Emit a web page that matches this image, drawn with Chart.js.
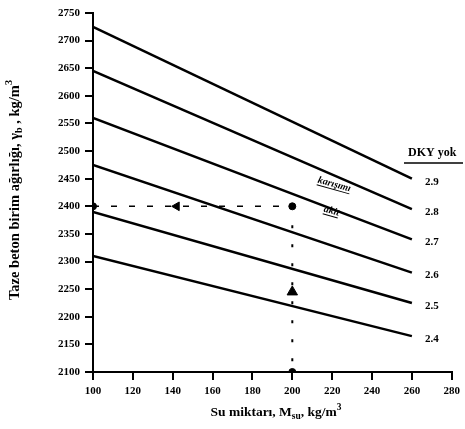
<!DOCTYPE html>
<html>
<head>
<meta charset="utf-8">
<script src="https://cdn.jsdelivr.net/npm/chart.js@4.4.1/dist/chart.umd.min.js"></script>
<style>
    html, body { margin: 0; padding: 0; background: #fff; }
    #wrap { width: 465px; height: 429px; }
</style>
</head>
<body>
<div id="wrap"><canvas id="chart"></canvas></div>
<script>
// water content (kg/m3) at the two ends of each line
const waterEnds = [100, 260];
// specific gravity of aggregate, one line each
const gravityLabels = ['2.9', '2.8', '2.7', '2.6', '2.5', '2.4'];
// fresh concrete unit weight at the ends of each line
const weightStart = [2725, 2645, 2560, 2475, 2390, 2310];
const weightEnd = [2450, 2395, 2340, 2280, 2225, 2165];

// example path
const pathX = [100, 142, 200, 200, 200];
const pathY = [2400, 2400, 2400, 2245, 2100];

const xTicks = [100, 120, 140, 160, 180, 200, 220, 240, 260, 280];
const yTicks = [2100, 2150, 2200, 2250, 2300, 2350, 2400, 2450, 2500, 2550, 2600, 2650, 2700, 2750];

const FONT = '"Liberation Serif", "Times New Roman", serif';

const lineSets = gravityLabels.map((g, i) => ({
    label: g,
    data: [
        { x: waterEnds[0], y: weightStart[i] },
        { x: waterEnds[1], y: weightEnd[i] }
    ],
    borderColor: '#000',
    borderWidth: 2.5,
    pointRadius: 0,
    showLine: true
}));

const pathSets = [
    {
        label: 'horizontal',
        data: [{ x: pathX[0], y: pathY[0] }, { x: pathX[2], y: pathY[2] }],
        borderColor: '#000',
        borderWidth: 1.5,
        borderDash: [6, 12],
        pointRadius: 0,
        showLine: true
    },
    {
        label: 'vertical',
        data: [{ x: pathX[2], y: pathY[2] }, { x: pathX[4], y: pathY[4] }],
        borderColor: '#000',
        borderWidth: 2,
        borderDash: [3, 16],
        pointRadius: 0,
        showLine: true
    },
    {
        label: 'dots',
        data: [0, 2, 4].map(i => ({ x: pathX[i], y: pathY[i] })),
        backgroundColor: '#000',
        borderColor: '#000',
        pointRadius: 3.5,
        showLine: false
    },
    {
        label: 'arrow left',
        data: [{ x: pathX[1], y: pathY[1] }],
        backgroundColor: '#000',
        borderColor: '#000',
        pointStyle: 'triangle',
        rotation: -90,
        pointRadius: 5,
        showLine: false
    },
    {
        label: 'arrow up',
        data: [{ x: pathX[3], y: pathY[3] }],
        backgroundColor: '#000',
        borderColor: '#000',
        pointStyle: 'triangle',
        pointRadius: 6,
        showLine: false
    }
];

// draws text with sub / superscript parts, pieces = [[text, 'n'|'sub'|'sup'], ...]
function drawRich(ctx, pieces, cx, cy, size) {
    const widths = pieces.map(p => {
        ctx.font = 'bold ' + (p[1] === 'n' ? size : size * 0.7) + 'px ' + FONT;
        return ctx.measureText(p[0]).width;
    });
    let x = cx - widths.reduce((a, b) => a + b, 0) / 2;
    pieces.forEach((p, i) => {
        ctx.font = 'bold ' + (p[1] === 'n' ? size : size * 0.7) + 'px ' + FONT;
        let dy = 0;
        if (p[1] === 'sub') dy = size * 0.3;
        if (p[1] === 'sup') dy = -size * 0.4;
        ctx.fillText(p[0], x, cy + dy);
        x += widths[i];
    });
}

const annotations = {
    id: 'annotations',
    afterDraw(chart) {
        const ctx = chart.ctx;
        const xs = chart.scales.x;
        const ys = chart.scales.y;
        ctx.save();
        ctx.fillStyle = '#000';
        ctx.strokeStyle = '#000';
        ctx.textBaseline = 'middle';

        // labels at the right end of each line
        ctx.font = 'bold 11px ' + FONT;
        ctx.textAlign = 'left';
        gravityLabels.forEach((g, i) => {
            ctx.fillText(g, xs.getPixelForValue(waterEnds[1]) + 13, ys.getPixelForValue(weightEnd[i]) + 3);
        });

        // legend header
        ctx.font = 'bold 12px ' + FONT;
        ctx.textAlign = 'left';
        ctx.fillText('DKY yok', 408, 153);
        ctx.lineWidth = 1.5;
        ctx.beginPath();
        ctx.moveTo(404, 163);
        ctx.lineTo(463, 163);
        ctx.stroke();

        // notes along the lines
        ctx.font = 'bold italic 10px ' + FONT;
        ctx.textAlign = 'left';
        [['karışımı', 318, 180], ['akit', 324, 209]].forEach(t => {
            ctx.save();
            ctx.translate(t[1], t[2]);
            ctx.rotate(0.27);
            ctx.fillText(t[0], 0, 0);
            const w = ctx.measureText(t[0]).width;
            ctx.lineWidth = 1;
            ctx.beginPath();
            ctx.moveTo(0, 5);
            ctx.lineTo(w, 5);
            ctx.stroke();
            ctx.restore();
        });

        // axis titles
        ctx.textAlign = 'left';
        drawRich(ctx, [['Su miktarı, M', 'n'], ['su', 'sub'], [', kg/m', 'n'], ['3', 'sup']],
            276, 413, 13.5);
        ctx.save();
        ctx.translate(15, 190);
        ctx.rotate(-Math.PI / 2);
        drawRich(ctx, [['Taze beton birim ağırlığı, γ', 'n'], ['b', 'sub'], [' , kg/m', 'n'], ['3', 'sup']],
            0, 0, 14.5);
        ctx.restore();

        ctx.restore();
    }
};

new Chart(document.getElementById('chart'), {
    type: 'scatter',
    data: { datasets: [...lineSets, ...pathSets] },
    options: {
        responsive: true,
        maintainAspectRatio: false,
        animation: false,
        layout: { padding: { top: 13, right: 10, left: 0, bottom: 0 } },
        plugins: {
            legend: { display: false },
            tooltip: { enabled: false }
        },
        scales: {
            x: {
                type: 'linear',
                min: 100,
                max: 280,
                afterBuildTicks: axis => { axis.ticks = xTicks.map(v => ({ value: v })); },
                afterFit: axis => { axis.height = 57; },
                border: { color: '#000', width: 2 },
                grid: { drawOnChartArea: false, color: '#000', lineWidth: 2, tickLength: 8 },
                ticks: {
                    color: '#000',
                    maxRotation: 0,
                    padding: 5,
                    callback: v => String(v),
                    font: { family: FONT, size: 11, weight: 'bold' }
                }
            },
            y: {
                type: 'linear',
                min: 2100,
                max: 2750,
                afterBuildTicks: axis => { axis.ticks = yTicks.map(v => ({ value: v })); },
                afterFit: axis => { axis.width = 93; },
                border: { color: '#000', width: 2 },
                grid: { drawOnChartArea: false, color: '#000', lineWidth: 2, tickLength: 8 },
                ticks: {
                    color: '#000',
                    padding: 5,
                    callback: v => String(v),
                    font: { family: FONT, size: 11, weight: 'bold' }
                }
            }
        }
    },
    plugins: [annotations]
});
</script>
</body>
</html>
